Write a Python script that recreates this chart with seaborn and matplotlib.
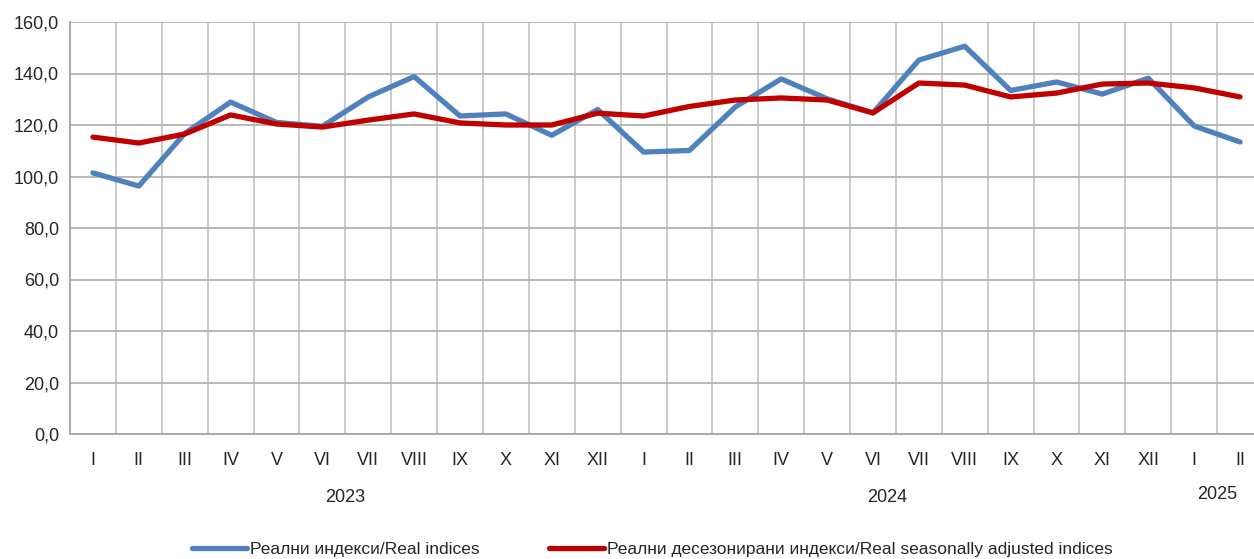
import pandas as pd
import seaborn as sns
import matplotlib.pyplot as plt
from matplotlib.ticker import FuncFormatter

months = ['I', 'II', 'III', 'IV', 'V', 'VI', 'VII', 'VIII', 'IX', 'X', 'XI', 'XII',
          'I', 'II', 'III', 'IV', 'V', 'VI', 'VII', 'VIII', 'IX', 'X', 'XI', 'XII',
          'I', 'II']
years = ['2023', '2024', '2025']
year_pos = [5.5, 17.3, 24.5]
real = [101.4, 96.3, 116.7, 128.9, 121.0, 119.5, 130.9, 138.8, 123.5, 124.3, 116.0, 126.0,
        109.5, 110.1, 127.0, 137.9, 130.2, 124.7, 145.2, 150.6, 133.4, 136.7, 132.0, 138.2,
        119.6, 113.4]
real_sa = [115.3, 113.0, 116.5, 123.9, 120.4, 119.2, 121.9, 124.3, 120.8, 120.0, 120.0, 124.6,
           123.5, 127.2, 129.7, 130.5, 129.7, 124.7, 136.3, 135.5, 130.9, 132.4, 135.9, 136.3,
           134.4, 130.9]
label_real = 'Реални индекси/Real indices'
label_sa = 'Реални десезонирани индекси/Real seasonally adjusted indices'

df = pd.DataFrame({
    'idx': list(range(len(months))) * 2,
    'value': real + real_sa,
    'series': [label_real] * len(real) + [label_sa] * len(real_sa),
})

sns.set_style('white')
plt.rcParams['font.family'] = ['Liberation Sans', 'DejaVu Sans']

fig = plt.figure(figsize=(12.54, 5.59), dpi=100)
ax = fig.add_axes([70 / 1254, 125 / 559, 1193 / 1254, 412 / 559])

sns.lineplot(data=df, x='idx', y='value', hue='series',
             palette={label_real: '#4f81bd', label_sa: '#c00000'},
             linewidth=3.8, ax=ax, legend=False, sort=False)

n = len(months)
ax.set_xlim(-0.5, n - 0.5)
ax.set_ylim(0, 160)
ax.set_yticks(range(0, 161, 20))
ax.yaxis.set_major_formatter(FuncFormatter(lambda v, p: f'{v:.1f}'.replace('.', ',')))
ax.set_xticks(range(n))
ax.set_xticklabels(months)
ax.set_xticks([i - 0.5 for i in range(n + 1)], minor=True)
ax.tick_params(axis='x', which='major', length=0, pad=13, labelsize=13)
ax.tick_params(axis='x', which='minor', length=5, color='#a6a6a6', width=1.3, direction='out')
ax.tick_params(axis='y', length=5, color='#a6a6a6', width=1.3, direction='out', labelsize=13, pad=3)
ax.grid(False)
ax.yaxis.grid(True, color='#b3b3b3', linewidth=1.3)
ax.xaxis.grid(True, which='minor', color='#c6c6c6', linewidth=1.3)
ax.set_axisbelow(True)
for s in ['top', 'right']:
    ax.spines[s].set_visible(False)
for s in ['left', 'bottom']:
    ax.spines[s].set_color('#a6a6a6')
    ax.spines[s].set_linewidth(1.3)
ax.set_xlabel('')
ax.set_ylabel('')

# year labels under the month labels
for yr, xp in zip(years, year_pos):
    ax.text(xp, -0.155 if yr != '2025' else -0.147, yr,
            transform=ax.get_xaxis_transform(), ha='center', va='center', fontsize=13)

handles = [plt.Line2D([], [], color='#4f81bd', linewidth=3.8),
           plt.Line2D([], [], color='#c00000', linewidth=3.8)]
fig.legend(handles, [label_real, label_sa], loc='lower center', ncol=2,
           bbox_to_anchor=(0.52, -0.025), frameon=False, fontsize=12.5,
           handlelength=3.2, handletextpad=0.15, columnspacing=4.0)

fig.savefig('out.png', dpi=100)
